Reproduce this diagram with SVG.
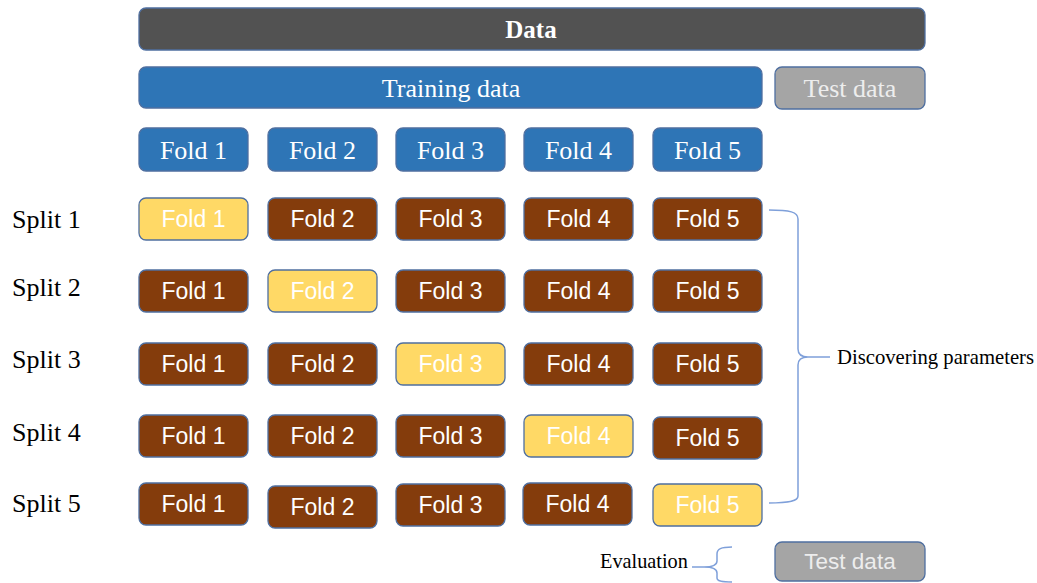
<svg xmlns="http://www.w3.org/2000/svg" width="1037" height="583" viewBox="0 0 1037 583">
<style>
.box{stroke:#4F6FA0;stroke-width:1.3}
.dark{fill:#525252}
.blue{fill:#2E75B6}
.gray{fill:#A5A5A5}
.brown{fill:#843C0C}
.yel{fill:#FFD966}
.serif{font-family:"Liberation Serif","Times New Roman",serif}
.sans{font-family:"Liberation Sans",Arial,sans-serif}
.wt{fill:#FFFFFF;text-anchor:middle}
.lt{fill:#EDEDED;text-anchor:middle}
.lbl{fill:#000000;font-size:26px}
.fs{font-size:23px}
.fh{font-size:26px}
.brace{fill:none;stroke:#7FA0DA;stroke-width:1.5}
</style>
<g id="data"><rect class="box dark" x="139" y="8" width="786" height="42" rx="7"/><text class="serif wt" x="531" y="38" font-size="25" font-weight="bold">Data</text></g>
<g id="training"><rect class="box blue" x="139" y="67" width="623" height="41" rx="7"/><text class="serif wt fh" x="451" y="97">Training data</text></g>
<g id="testtop"><rect class="box gray" x="775" y="67" width="150" height="42" rx="7"/><text class="serif lt fh" x="850" y="97">Test data</text></g>
<g id="hdr1"><rect class="box blue" x="139" y="128" width="109" height="43" rx="7"/><text class="serif wt fh" x="193.5" y="159">Fold 1</text></g>
<g id="hdr2"><rect class="box blue" x="268" y="128" width="109" height="43" rx="7"/><text class="serif wt fh" x="322.5" y="159">Fold 2</text></g>
<g id="hdr3"><rect class="box blue" x="396" y="128" width="109" height="43" rx="7"/><text class="serif wt fh" x="450.5" y="159">Fold 3</text></g>
<g id="hdr4"><rect class="box blue" x="524" y="128" width="109" height="43" rx="7"/><text class="serif wt fh" x="578.5" y="159">Fold 4</text></g>
<g id="hdr5"><rect class="box blue" x="653" y="128" width="109" height="43" rx="7"/><text class="serif wt fh" x="707.5" y="159">Fold 5</text></g>

<g id="split1"><text class="serif lbl" x="12" y="228">Split 1</text></g>
<g id="s1f1"><rect class="box yel" x="139" y="198" width="109" height="42" rx="7"/><text class="sans wt fs" x="193.5" y="227">Fold 1</text></g>
<g id="s1f2"><rect class="box brown" x="268" y="198" width="109" height="42" rx="7"/><text class="sans wt fs" x="322.5" y="227">Fold 2</text></g>
<g id="s1f3"><rect class="box brown" x="396" y="198" width="109" height="42" rx="7"/><text class="sans wt fs" x="450.5" y="227">Fold 3</text></g>
<g id="s1f4"><rect class="box brown" x="524" y="198" width="109" height="42" rx="7"/><text class="sans wt fs" x="578.5" y="227">Fold 4</text></g>
<g id="s1f5"><rect class="box brown" x="653" y="198" width="109" height="42" rx="7"/><text class="sans wt fs" x="707.5" y="227">Fold 5</text></g>

<g id="split2"><text class="serif lbl" x="12" y="296">Split 2</text></g>
<g id="s2f1"><rect class="box brown" x="139" y="270" width="109" height="42" rx="7"/><text class="sans wt fs" x="193.5" y="299">Fold 1</text></g>
<g id="s2f2"><rect class="box yel" x="268" y="270" width="109" height="42" rx="7"/><text class="sans wt fs" x="322.5" y="299">Fold 2</text></g>
<g id="s2f3"><rect class="box brown" x="396" y="270" width="109" height="42" rx="7"/><text class="sans wt fs" x="450.5" y="299">Fold 3</text></g>
<g id="s2f4"><rect class="box brown" x="524" y="270" width="109" height="42" rx="7"/><text class="sans wt fs" x="578.5" y="299">Fold 4</text></g>
<g id="s2f5"><rect class="box brown" x="653" y="270" width="109" height="42" rx="7"/><text class="sans wt fs" x="707.5" y="299">Fold 5</text></g>

<g id="split3"><text class="serif lbl" x="12" y="368">Split 3</text></g>
<g id="s3f1"><rect class="box brown" x="139" y="343" width="109" height="42" rx="7"/><text class="sans wt fs" x="193.5" y="372">Fold 1</text></g>
<g id="s3f2"><rect class="box brown" x="268" y="343" width="109" height="42" rx="7"/><text class="sans wt fs" x="322.5" y="372">Fold 2</text></g>
<g id="s3f3"><rect class="box yel" x="396" y="343" width="109" height="42" rx="7"/><text class="sans wt fs" x="450.5" y="372">Fold 3</text></g>
<g id="s3f4"><rect class="box brown" x="524" y="343" width="109" height="42" rx="7"/><text class="sans wt fs" x="578.5" y="372">Fold 4</text></g>
<g id="s3f5"><rect class="box brown" x="653" y="343" width="109" height="42" rx="7"/><text class="sans wt fs" x="707.5" y="372">Fold 5</text></g>

<g id="split4"><text class="serif lbl" x="12" y="441">Split 4</text></g>
<g id="s4f1"><rect class="box brown" x="139" y="415" width="109" height="42" rx="7"/><text class="sans wt fs" x="193.5" y="444">Fold 1</text></g>
<g id="s4f2"><rect class="box brown" x="268" y="415" width="109" height="42" rx="7"/><text class="sans wt fs" x="322.5" y="444">Fold 2</text></g>
<g id="s4f3"><rect class="box brown" x="396" y="415" width="109" height="42" rx="7"/><text class="sans wt fs" x="450.5" y="444">Fold 3</text></g>
<g id="s4f4"><rect class="box yel" x="524" y="415" width="109" height="42" rx="7"/><text class="sans wt fs" x="578.5" y="444">Fold 4</text></g>
<g id="s4f5"><rect class="box brown" x="653" y="417" width="109" height="42" rx="7"/><text class="sans wt fs" x="707.5" y="446">Fold 5</text></g>

<g id="split5"><text class="serif lbl" x="12" y="512">Split 5</text></g>
<g id="s5f1"><rect class="box brown" x="139" y="483" width="109" height="42" rx="7"/><text class="sans wt fs" x="193.5" y="512">Fold 1</text></g>
<g id="s5f2"><rect class="box brown" x="268" y="486" width="109" height="42" rx="7"/><text class="sans wt fs" x="322.5" y="515">Fold 2</text></g>
<g id="s5f3"><rect class="box brown" x="396" y="484" width="109" height="42" rx="7"/><text class="sans wt fs" x="450.5" y="513">Fold 3</text></g>
<g id="s5f4"><rect class="box brown" x="523" y="483" width="109" height="42" rx="7"/><text class="sans wt fs" x="577.5" y="512">Fold 4</text></g>
<g id="s5f5"><rect class="box yel" x="653" y="484" width="109" height="42" rx="7"/><text class="sans wt fs" x="707.5" y="513">Fold 5</text></g>

<g id="testbottom"><rect class="box gray" x="775" y="542" width="150" height="39" rx="7"/><text class="sans lt" x="850" y="569" font-size="22.5">Test data</text></g>

<g id="connectors">
<path class="brace" d="M769,210 C790,210 798,212 798,219 L798,349 C798,354 801,357 808,357 L830,357 M808,357 C801,357 798,360 798,365 L798,496 C798,501 790,503 769,503"/>
<path class="brace" d="M732,547 C721,547 717,549 717,554 L717,561 C717,565 713,567 704,567 L692,567 M704,567 C713,567 717,569 717,573 L717,578 C717,581 721,582 732,582"/>
</g>
<g id="labels">
<text class="serif" x="837" y="364" font-size="20.7" fill="#000">Discovering parameters</text>
<text class="serif" x="600" y="568" font-size="20.3" fill="#000">Evaluation</text>
</g>
</svg>
